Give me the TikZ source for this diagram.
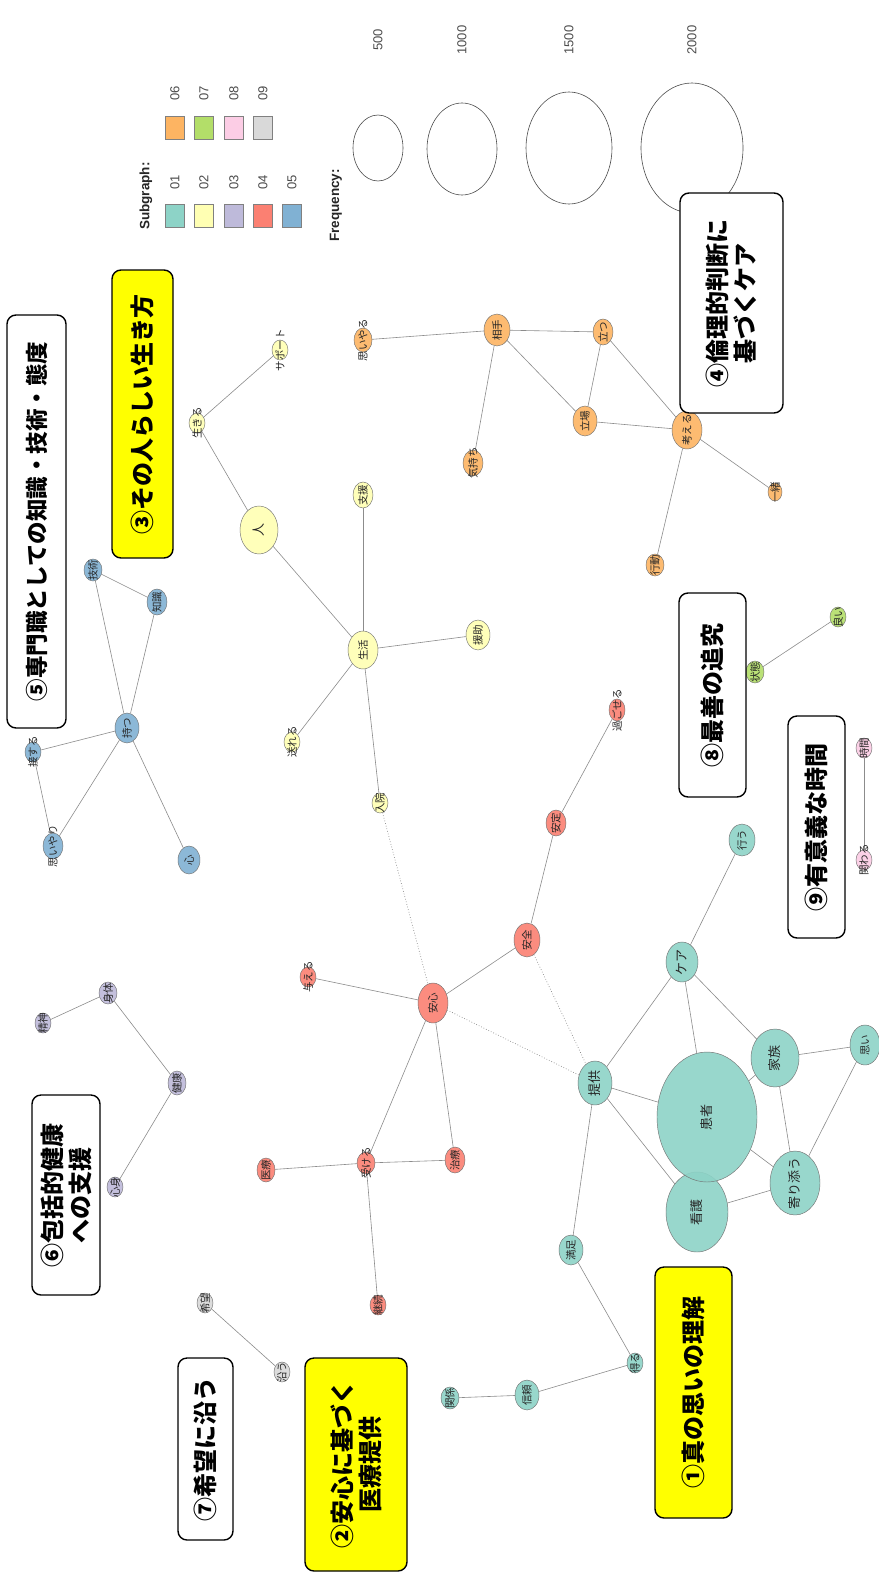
\documentclass[tikz,border=0pt]{standalone}
\usepackage{fontspec}
\setmainfont{Liberation Sans}
\newfontfamily\jp{Noto Sans CJK JP}
\usetikzlibrary{shapes.geometric,backgrounds}
\definecolor{cA}{HTML}{8DD3C7}
\definecolor{cB}{HTML}{FFFFB3}
\definecolor{cC}{HTML}{BEBADA}
\definecolor{cD}{HTML}{FB8072}
\definecolor{cE}{HTML}{80B1D3}
\definecolor{cF}{HTML}{FDB462}
\definecolor{cG}{HTML}{B3DE69}
\definecolor{cH}{HTML}{FCCDE5}
\definecolor{cI}{HTML}{D9D9D9}
\definecolor{boxyellow}{HTML}{FFFF00}
\tikzset{
  lab/.style={rotate=90, font=\jp\fontsize{10.5}{10.5}\selectfont, text=black!85, inner sep=0pt},
  biglab/.style={rotate=90, font=\jp\fontsize{13}{13}\selectfont, text=black!85, inner sep=0pt},
  nd/.style={ellipse, draw=black!55, line width=0.45pt, inner sep=0pt, fill opacity=0.9, text opacity=1},
  edge/.style={draw=black!45, line width=0.6pt},
  dotedge/.style={draw=black!45, line width=0.7pt, dotted},
  catbox/.style={rounded corners=9pt, draw=black, line width=1.4pt, rotate=90, inner sep=0pt,
    font=\jp\bfseries\fontsize{24}{28}\selectfont, align=center},
  legsq/.style={draw=black!50, line width=0.5pt, minimum width=19pt, minimum height=23pt, inner sep=0pt},
  legtxt/.style={rotate=90, font=\fontsize{13}{13}\selectfont, text=black!70, inner sep=0pt},
  legtitle/.style={rotate=90, font=\bfseries\fontsize{13.5}{13.5}\selectfont, text=black!85, inner sep=0pt, anchor=west},
  freq/.style={ellipse, draw=black!70, line width=0.6pt, inner sep=0pt},
}
% name, x, y, rx, ry, colour, label style, text
\newcommand\gnode[8]{%
  \node[nd, fill=#6, minimum width={2*#4}, minimum height={2*#5}] (#1) at (#2,#3) {};
  \node[#7] (#1-t) at (#1) {#8};}
\begin{document}
\begin{tikzpicture}[x=1pt,y=-1pt]
\useasboundingbox (0,0) rectangle (878,1573);
% ---------------- legend ----------------
\node[legtitle] (subgraph) at (146,230) {Subgraph:};
\node[legsq, fill=cA] (sq01) at (175,216) {};
\node[legsq, fill=cB] (sq02) at (204,216) {};
\node[legsq, fill=cC] (sq03) at (234,216) {};
\node[legsq, fill=cD] (sq04) at (263,216) {};
\node[legsq, fill=cE] (sq05) at (292,216) {};
\node[legsq, fill=cF] (sq06) at (175,128) {};
\node[legsq, fill=cG] (sq07) at (204,128) {};
\node[legsq, fill=cH] (sq08) at (234,128) {};
\node[legsq, fill=cI] (sq09) at (263,128) {};
\node[legtxt] (t01) at (175,182) {01};
\node[legtxt] (t02) at (204,182) {02};
\node[legtxt] (t03) at (234,182) {03};
\node[legtxt] (t04) at (263,182) {04};
\node[legtxt] (t05) at (292,182) {05};
\node[legtxt] (t06) at (175,93) {06};
\node[legtxt] (t07) at (204,93) {07};
\node[legtxt] (t08) at (234,93) {08};
\node[legtxt] (t09) at (263,93) {09};
\node[legtitle] (frequency) at (336,242) {Frequency:};
\node[freq, minimum width=50pt, minimum height=66pt] (f500) at (378,148) {};
\node[freq, minimum width=70pt, minimum height=92pt] (f1000) at (462,149) {};
\node[freq, minimum width=86pt, minimum height=112pt] (f1500) at (569,148) {};
\node[freq, minimum width=102pt, minimum height=130pt] (f2000) at (692,148) {};
\node[legtxt] (n500) at (378,40) {500};
\node[legtxt] (n1000) at (462,40) {1000};
\node[legtxt] (n1500) at (569,40) {1500};
\node[legtxt] (n2000) at (692,40) {2000};
% ---------------- network nodes ----------------
% 01 teal
\gnode{kango}{697}{1212}{31}{40}{cA}{biglab}{看護}
\gnode{kanja}{707}{1117}{50}{65}{cA}{biglab}{患者}
\gnode{yorisou}{795}{1183}{25}{32}{cA}{biglab}{寄り添う}
\gnode{kazoku}{775}{1058}{24}{29}{cA}{biglab}{家族}
\gnode{omoi}{865}{1045}{15}{20}{cA}{lab}{思い}
\gnode{care}{682}{962}{16}{20}{cA}{biglab}{ケア}
\gnode{okonau}{742}{840}{13}{16}{cA}{lab}{行う}
\gnode{teikyo}{595}{1083}{17}{22}{cA}{biglab}{提供}
\gnode{manzoku}{571}{1250}{12}{15}{cA}{lab}{満足}
\gnode{eru}{635}{1363}{8}{10}{cA}{lab}{得る}
\gnode{shinrai}{527}{1395}{12}{15}{cA}{lab}{信頼}
\gnode{kankei}{450}{1398}{9}{11}{cA}{lab}{関係}
% 04 red
\gnode{anshin}{433}{1003}{15}{20}{cD}{lab}{安心}
\gnode{anzen}{527}{940}{13}{17}{cD}{lab}{安全}
\gnode{antei}{556}{823}{10}{13}{cD}{lab}{安定}
\gnode{sugoseru}{617}{710}{8}{11}{cD}{lab}{過ごせる}
\gnode{ataeru}{308}{977}{8}{10}{cD}{lab}{与える}
\gnode{ukeru}{366}{1163}{9}{11}{cD}{lab}{受ける}
\gnode{iryo}{266}{1170}{9}{12}{cD}{lab}{医療}
\gnode{chiryo}{455}{1160}{10}{13}{cD}{lab}{治療}
\gnode{keizoku}{378}{1305}{8}{10}{cD}{lab}{継続}
% 02 yellow
\gnode{hito}{259}{530}{19}{24}{cB}{biglab}{人}
\gnode{ikiru}{197}{423}{8}{10}{cB}{lab}{生きる}
\gnode{support}{280}{350}{8}{10}{cB}{lab}{サポート}
\gnode{shien}{363}{495}{10}{13}{cB}{lab}{支援}
\gnode{seikatsu}{363}{650}{15}{19}{cB}{lab}{生活}
\gnode{enjo}{478}{635}{12}{15}{cB}{lab}{援助}
\gnode{okureru}{292}{742}{8}{10}{cB}{lab}{送れる}
\gnode{nyuin}{380}{803}{8}{10}{cB}{lab}{入院}
% 05 blue
\gnode{gijutsu}{93}{570}{9}{11}{cE}{lab}{技術}
\gnode{chishiki}{157}{602}{10}{13}{cE}{lab}{知識}
\gnode{motsu}{127}{728}{12}{15}{cE}{lab}{持つ}
\gnode{sessuru}{33}{752}{8}{10}{cE}{lab}{接する}
\gnode{omoiyari}{53}{846}{10}{13}{cE}{lab}{思いやり}
\gnode{kokoro}{189}{860}{11}{14}{cE}{lab}{心}
% 06 orange
\gnode{omoiyaru}{363}{340}{9}{12}{cF}{lab}{思いやる}
\gnode{aite}{497}{330}{13}{16}{cF}{lab}{相手}
\gnode{tatsu}{603}{332}{10}{13}{cF}{lab}{立つ}
\gnode{tachiba}{585}{421}{12}{15}{cF}{lab}{立場}
\gnode{kangaeru}{687}{430}{15}{19}{cF}{lab}{考える}
\gnode{kimochi}{473}{463}{10}{13}{cF}{lab}{気持ち}
\gnode{kodo}{655}{565}{9}{11}{cF}{lab}{行動}
\gnode{issho}{775}{492}{7}{9}{cF}{lab}{一緒}
% 07 green, 08 pink, 03 purple, 09 grey
\gnode{jotai}{755}{672}{9}{11}{cG}{lab}{状態}
\gnode{yoi}{838}{617}{8}{10}{cG}{lab}{良い}
\gnode{jikan}{864}{748}{8}{10}{cH}{lab}{時間}
\gnode{kakawaru}{864}{860}{8}{10}{cH}{lab}{関わる}
\gnode{seishin}{43}{1023}{8}{10}{cC}{lab}{精神}
\gnode{shintai}{108}{993}{9}{11}{cC}{lab}{身体}
\gnode{kenko}{177}{1083}{9}{12}{cC}{lab}{健康}
\gnode{shinshin}{115}{1187}{8}{10}{cC}{lab}{心身}
\gnode{kibo}{205}{1303}{8}{10}{cI}{lab}{希望}
\gnode{sou}{282}{1372}{8}{10}{cI}{lab}{沿う}
% ---------------- edges ----------------
\begin{pgfonlayer}{background}
\fill[white] (0,0) rectangle (878,1573);
\draw[edge] (teikyo) -- (care);
\draw[edge] (teikyo) -- (kanja);
\draw[edge] (teikyo) -- (kango);
\draw[edge] (teikyo) -- (manzoku);
\draw[edge] (care) -- (kanja);
\draw[edge] (care) -- (kazoku);
\draw[edge] (care) -- (okonau);
\draw[edge] (kazoku) -- (omoi);
\draw[edge] (kazoku) -- (yorisou);
\draw[edge] (omoi) -- (yorisou);
\draw[edge] (kanja) -- (yorisou);
\draw[edge] (kanja) -- (kazoku);
\draw[edge] (kango) -- (yorisou);
\draw[edge] (manzoku) -- (eru);
\draw[edge] (eru) -- (shinrai);
\draw[edge] (shinrai) -- (kankei);
\draw[edge] (anshin) -- (anzen);
\draw[edge] (anzen) -- (antei);
\draw[edge] (antei) -- (sugoseru);
\draw[edge] (anshin) -- (ataeru);
\draw[edge] (anshin) -- (ukeru);
\draw[edge] (anshin) -- (chiryo);
\draw[edge] (ukeru) -- (chiryo);
\draw[edge] (ukeru) -- (iryo);
\draw[edge] (ukeru) -- (keizoku);
\draw[edge] (ikiru) -- (support);
\draw[edge] (ikiru) -- (hito);
\draw[edge] (hito) -- (seikatsu);
\draw[edge] (seikatsu) -- (shien);
\draw[edge] (seikatsu) -- (enjo);
\draw[edge] (seikatsu) -- (okureru);
\draw[edge] (seikatsu) -- (nyuin);
\draw[edge] (motsu) -- (gijutsu);
\draw[edge] (motsu) -- (chishiki);
\draw[edge] (gijutsu) -- (chishiki);
\draw[edge] (motsu) -- (sessuru);
\draw[edge] (sessuru) -- (omoiyari);
\draw[edge] (motsu) -- (omoiyari);
\draw[edge] (motsu) -- (kokoro);
\draw[edge] (omoiyaru) -- (aite);
\draw[edge] (aite) -- (tatsu);
\draw[edge] (aite) -- (tachiba);
\draw[edge] (aite) -- (kimochi);
\draw[edge] (tatsu) -- (tachiba);
\draw[edge] (tatsu) -- (kangaeru);
\draw[edge] (tachiba) -- (kangaeru);
\draw[edge] (kangaeru) -- (kodo);
\draw[edge] (kangaeru) -- (issho);
\draw[edge] (jotai) -- (yoi);
\draw[edge] (jikan) -- (kakawaru);
\draw[edge] (seishin) -- (shintai);
\draw[edge] (shintai) -- (kenko);
\draw[edge] (kenko) -- (shinshin);
\draw[edge] (kibo) -- (sou);
\draw[dotedge] (nyuin) -- (anshin);
\draw[dotedge] (anshin) -- (teikyo);
\draw[dotedge] (anzen) -- (teikyo);
\end{pgfonlayer}
% ---------------- category boxes ----------------
\node[catbox, fill=white, minimum width=413pt, minimum height=59pt, font=\jp\bfseries\fontsize{22.5}{27}\selectfont] (b5) at (36.5,521.5) {⑤専門職としての知識・技術・態度};
\node[catbox, fill=boxyellow, minimum width=288pt, minimum height=61pt] (b3) at (142.5,414) {③その人らしい生き方};
\node[catbox, fill=white, minimum width=220pt, minimum height=103pt] (b4) at (731.5,303) {④倫理的判断に\\基づくケア};
\node[catbox, fill=white, minimum width=204pt, minimum height=67pt] (b8) at (712.5,695) {⑧最善の追究};
\node[catbox, fill=white, minimum width=222pt, minimum height=57pt] (b9) at (816.5,827) {⑨有意義な時間};
\node[catbox, fill=white, minimum width=200pt, minimum height=68pt] (b6) at (66,1195) {⑥包括的健康\\への支援};
\node[catbox, fill=white, minimum width=182pt, minimum height=55pt] (b7) at (205.5,1449) {⑦希望に沿う};
\node[catbox, fill=boxyellow, minimum width=213pt, minimum height=102pt] (b2) at (356,1464.5) {②安心に基づく\\医療提供};
\node[catbox, fill=boxyellow, minimum width=251pt, minimum height=77pt] (b1) at (693.5,1392.5) {①真の思いの理解};
\end{tikzpicture}
\end{document}
